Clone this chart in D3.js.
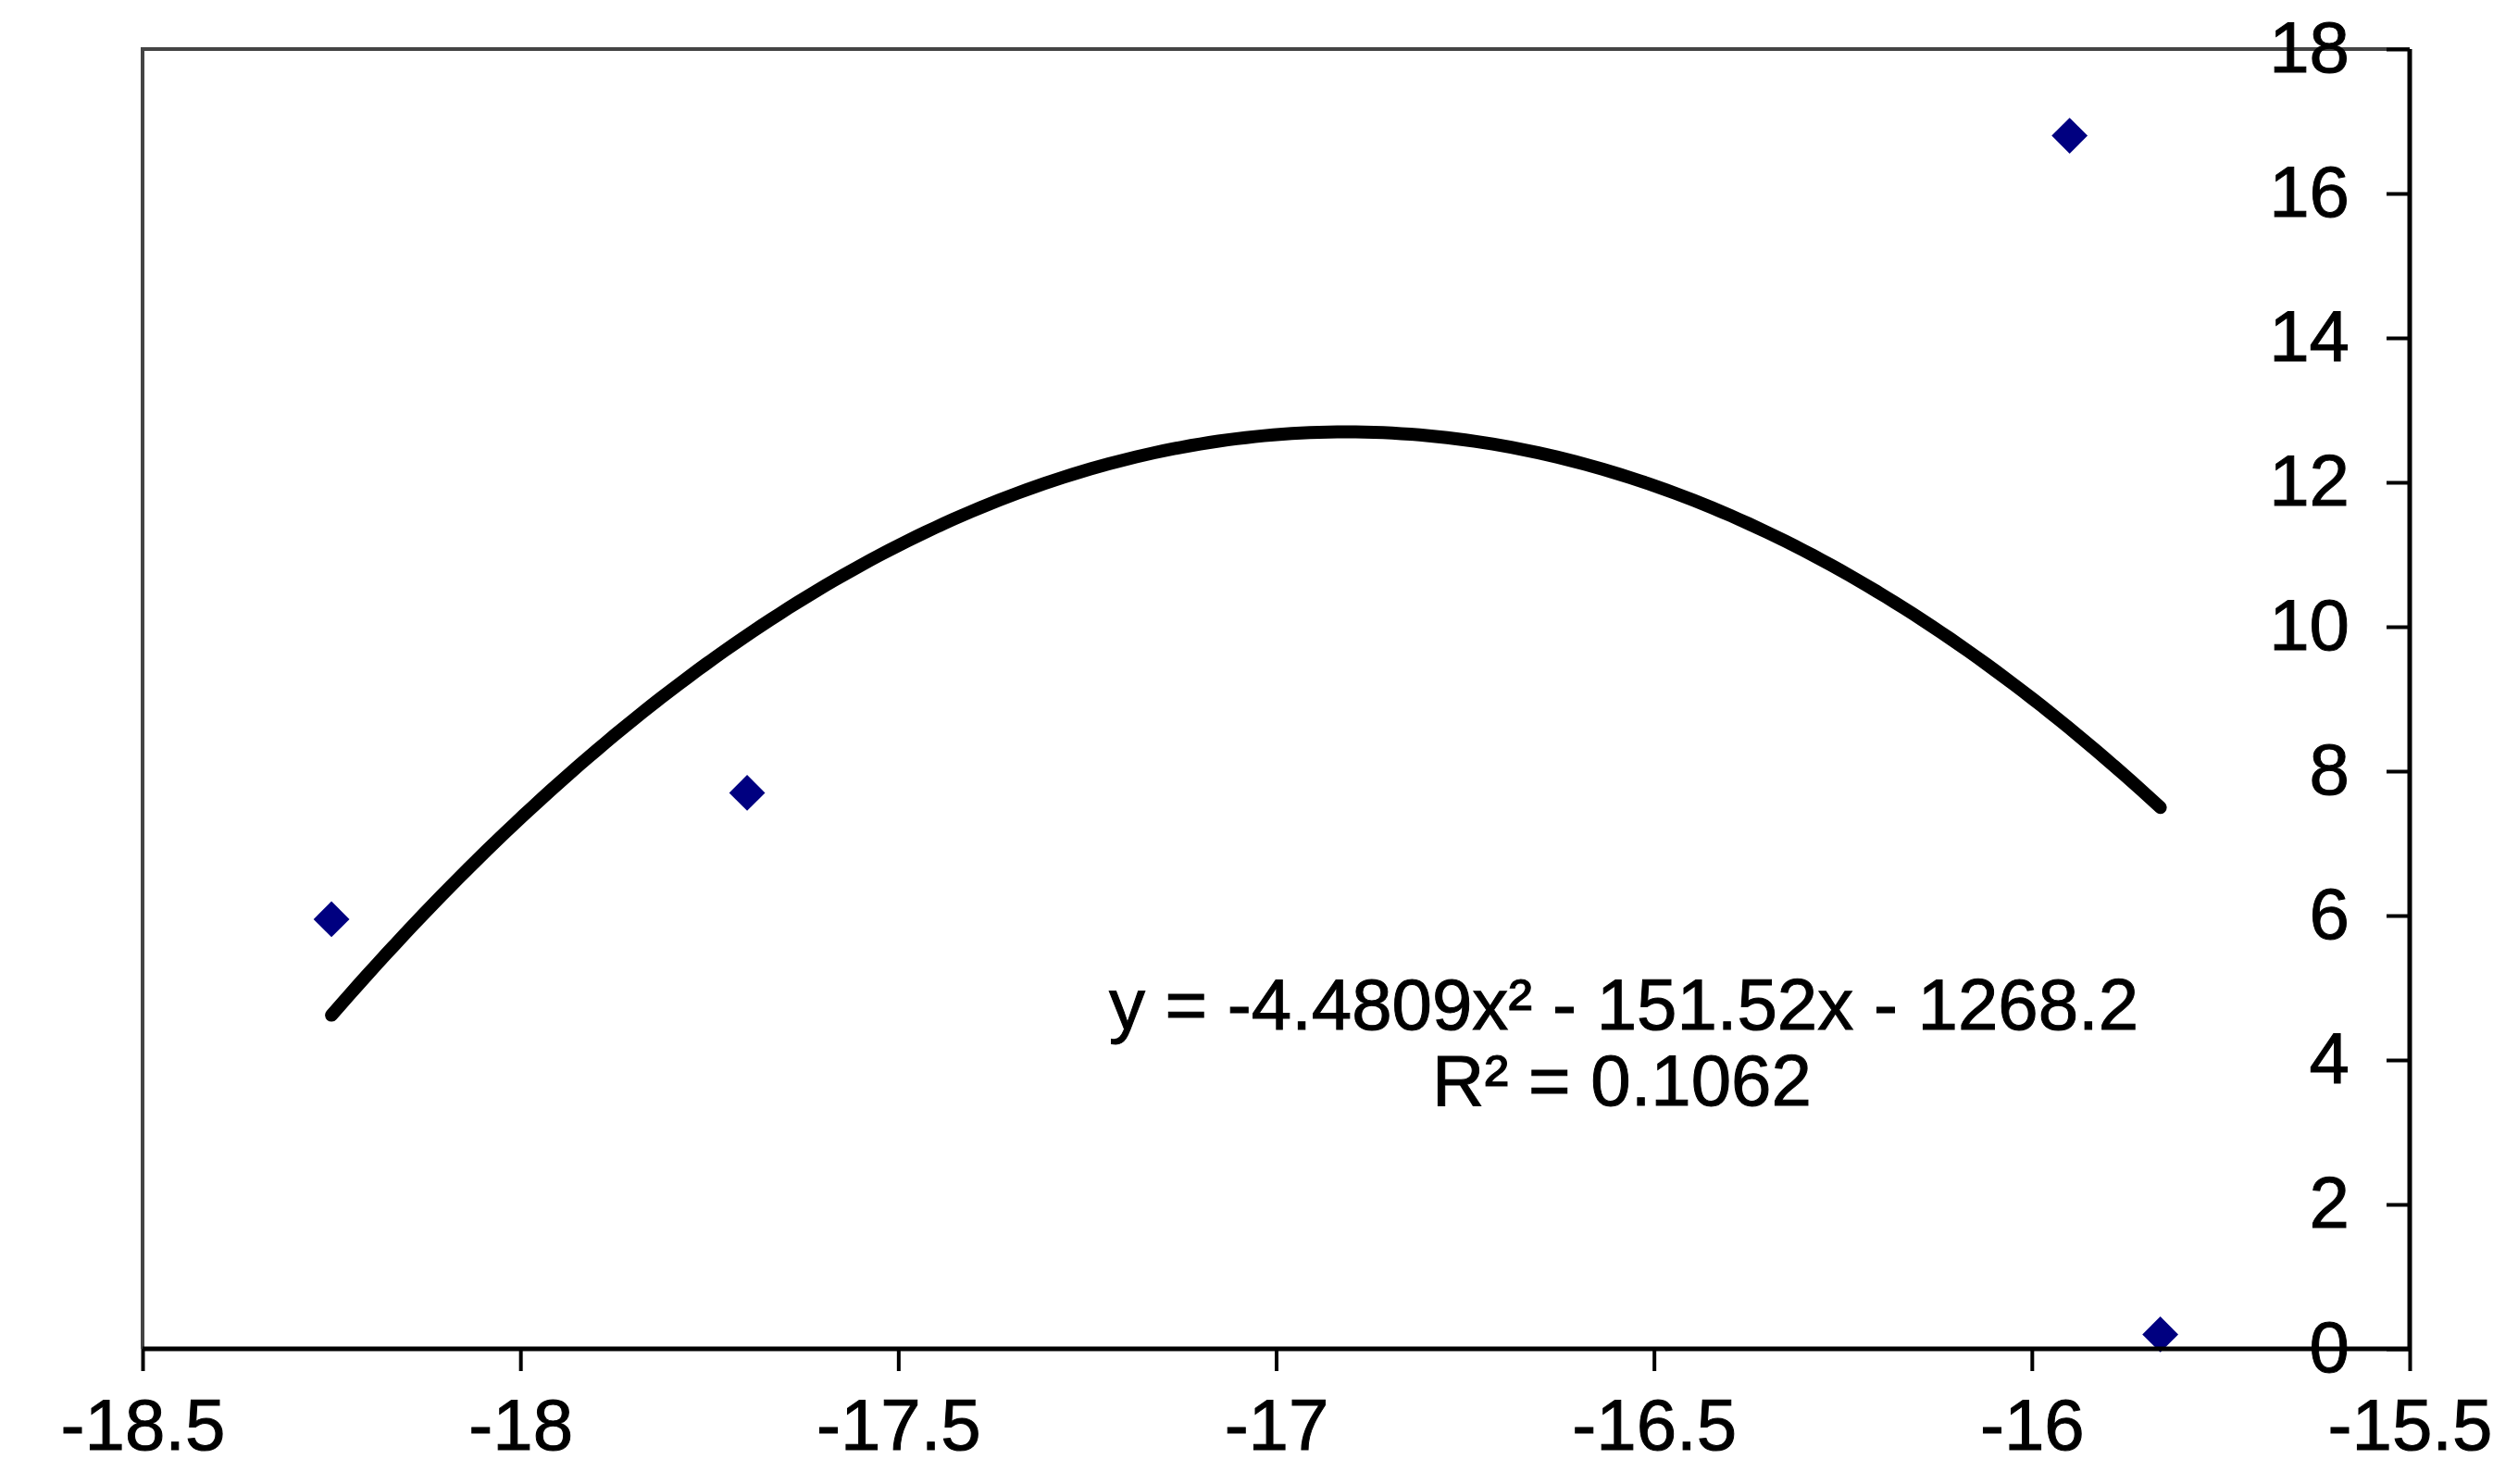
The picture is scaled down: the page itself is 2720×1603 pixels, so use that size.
<!DOCTYPE html>
<html>
<head>
<meta charset="utf-8">
<script src="https://cdn.jsdelivr.net/npm/d3@7"></script>
<style>
html,body{margin:0;padding:0;background:#fff;}
svg{display:block;}
text{font-family:"Liberation Sans",Arial,sans-serif;}
</style>
</head>
<body>
<svg id="chart" width="2720" height="1603"></svg>
<script>
// Data
const xValues = [-18.25, -17.7, -15.95, -15.83];
const yValues = [5.95, 7.7, 16.8, 0.2];
// Polynomial trendline coefficients (a x^2 + b x + c), as shown on the chart
const trendCoefs = [-4.4809, -151.52, -1268.2];
const equationLines = ["y = -4.4809x² - 151.52x - 1268.2", "R² = 0.1062"];
const xTicks = [-18.5, -18, -17.5, -17, -16.5, -16, -15.5];
const yTicks = [0, 2, 4, 6, 8, 10, 12, 14, 16, 18];

const svg = d3.select("#chart");
const L = 154, R = 2603, T = 53, B = 1457;
const FS = 78;

const x = d3.scaleLinear().domain([-18.5, -15.5]).range([L, R]);
const y = d3.scaleLinear().domain([0, 18]).range([B, T]);

// plot frame (top & left, grey)
svg.append("path")
  .attr("d", `M${L},${B} L${L},${T} L${R},${T}`)
  .attr("fill", "none").attr("stroke", "#444").attr("stroke-width", 4);

// trendline
const xmin = d3.min(xValues), xmax = d3.max(xValues);
const curvePts = d3.range(0, 201).map(i => {
  const xv = xmin + (xmax - xmin) * i / 200;
  return [xv, trendCoefs[0]*xv*xv + trendCoefs[1]*xv + trendCoefs[2]];
});
svg.append("path")
  .datum(curvePts)
  .attr("d", d3.line().x(d => x(d[0])).y(d => y(d[1])))
  .attr("fill", "none").attr("stroke", "#000").attr("stroke-width", 14)
  .attr("stroke-linecap", "round").attr("stroke-linejoin", "round");

// points
const pts = xValues.map((v, i) => [v, yValues[i]]);
svg.selectAll(".pt").data(pts).enter().append("path")
  .attr("class", "pt")
  .attr("d", d3.symbol().type(d3.symbolDiamond2).size(960))
  .attr("transform", d => `translate(${x(d[0])},${y(d[1])})`)
  .attr("fill", "#000080");

// x axis
const xAxis = svg.append("g").attr("transform", `translate(0,${B})`)
  .call(d3.axisBottom(x).tickValues(xTicks).tickFormat(d => String(d)).tickSize(24).tickPadding(30));
xAxis.select(".domain").attr("stroke", "#000").attr("stroke-width", 5).attr("d", `M${L},0H${R}`);
xAxis.selectAll(".tick line").attr("stroke", "#000").attr("stroke-width", 4);
xAxis.selectAll(".tick text").attr("font-size", FS).attr("fill", "#000")
  .attr("stroke", "#000").attr("stroke-width", 1)
  .attr("font-family", "'Liberation Sans',Arial,sans-serif").attr("dy", "0.71em");

// y axis on the right, inward ticks, labels inside
const yAxis = svg.append("g").attr("transform", `translate(${R},0)`)
  .call(d3.axisLeft(y).tickValues(yTicks).tickFormat(d => String(d)).tickSize(25).tickPadding(40));
yAxis.select(".domain").attr("stroke", "#000").attr("stroke-width", 5).attr("d", `M0,${T}V${B}`);
yAxis.selectAll(".tick line").attr("stroke", "#000").attr("stroke-width", 4);
yAxis.selectAll(".tick text").attr("font-size", FS).attr("fill", "#000")
  .attr("stroke", "#000").attr("stroke-width", 1)
  .attr("font-family", "'Liberation Sans',Arial,sans-serif");

// equation
svg.append("text").attr("x", 1754).attr("y", 1112)
  .attr("text-anchor", "middle").attr("font-size", FS).attr("fill", "#000")
  .attr("stroke", "#000").attr("stroke-width", 1)
  .text(equationLines[0]);
svg.append("text").attr("x", 1752).attr("y", 1194)
  .attr("text-anchor", "middle").attr("font-size", FS).attr("fill", "#000")
  .attr("stroke", "#000").attr("stroke-width", 1)
  .text(equationLines[1]);
</script>
</body>
</html>
